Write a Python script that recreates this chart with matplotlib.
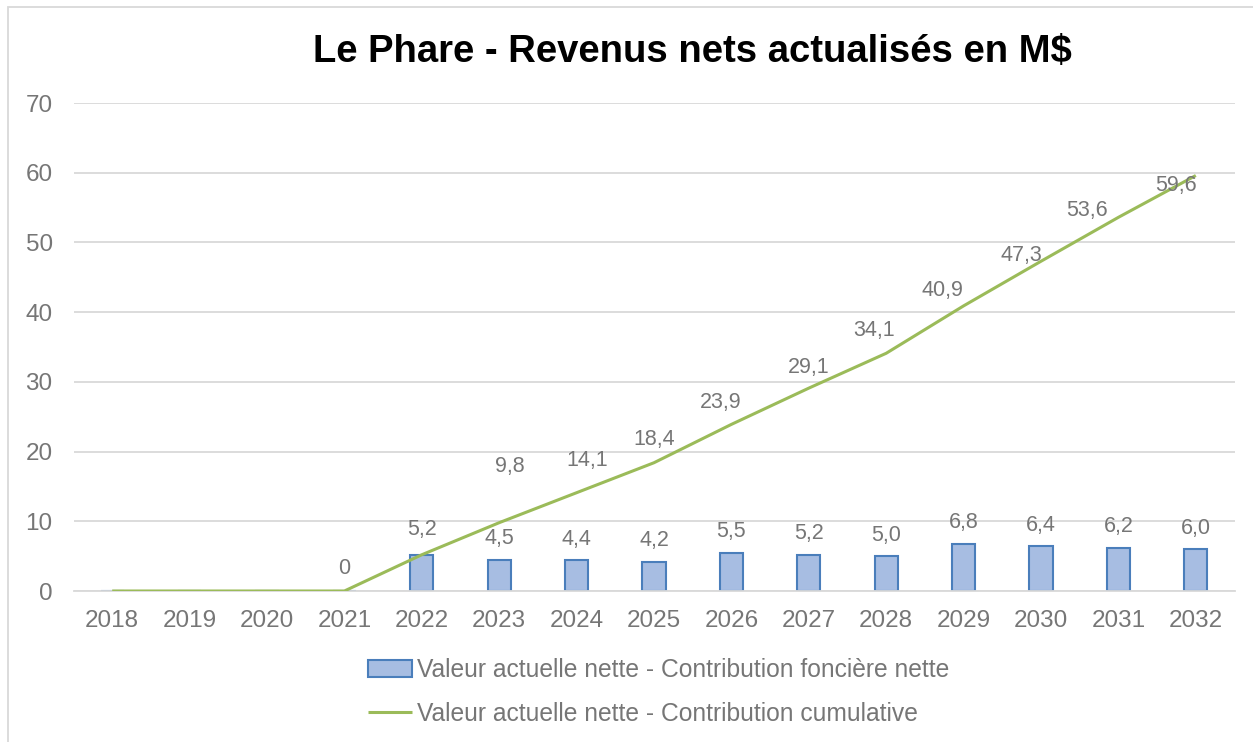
import matplotlib
matplotlib.use("Agg")
import matplotlib.pyplot as plt
from matplotlib.patches import Rectangle

years = ["2018", "2019", "2020", "2021", "2022", "2023", "2024", "2025",
         "2026", "2027", "2028", "2029", "2030", "2031", "2032"]
annual = [0, 0, 0, 0, 5.2, 4.5, 4.4, 4.2, 5.5, 5.2, 5.0, 6.8, 6.4, 6.2, 6.0]
cumulative = [0, 0, 0, 0, 5.2, 9.8, 14.1, 18.4, 23.9, 29.1, 34.1, 40.9, 47.3, 53.6, 59.6]
bar_label_from = 4    # bars labelled from 2022
# label offsets in pixels for the cumulative labels (label placement styling)
line_offsets = {3: (0, 23), 5: (11, 56), 6: (11, 32), 7: (0, 23), 8: (-11, 22),
                9: (0, 21), 10: (-12, 23), 11: (-21, 15), 12: (-20, 6),
                13: (-31, 7), 14: (-20, -10)}

title = "Le Phare - Revenus nets actualisés en M$"
bar_name = "Valeur actuelle nette - Contribution foncière nette"
line_name = "Valeur actuelle nette - Contribution cumulative"

plt.rcParams['font.family'] = ['Liberation Sans', 'DejaVu Sans']
gray = "#767676"
tick_fs = 17.5
label_fs = 15.5

fig = plt.figure(figsize=(12.53, 7.42), dpi=100)
ax = fig.add_axes([73.5 / 1253, 151 / 742, 1161 / 1253, 488 / 742])

x = list(range(len(years)))
bars = ax.bar(x, annual, width=0.3, color="#a7bde2", edgecolor="#4a7ebb",
              linewidth=1.5, zorder=2, label=bar_name)
ax.plot(x, cumulative, color="#9bbb59", linewidth=2.2, zorder=3, label=line_name,
        solid_capstyle='butt')

def fmt(v):
    return f"{v:.1f}".replace(".", ",")

for i in range(bar_label_from, len(years)):
    dy = 21 if i != 4 else 25
    ax.annotate(fmt(annual[i]), (x[i], annual[i]), xytext=(0, dy),
                textcoords="offset pixels", ha="center", va="center",
                fontsize=label_fs, color=gray, zorder=4)

for i, (dx, dy) in line_offsets.items():
    txt = "0" if cumulative[i] == 0 else fmt(cumulative[i])
    ax.annotate(txt, (x[i], cumulative[i]), xytext=(dx, dy),
                textcoords="offset pixels", ha="center", va="center",
                fontsize=label_fs, color=gray, zorder=4)

ax.set_xlim(-0.5, len(years) - 0.5)
ax.set_ylim(0, 70)
ax.set_yticks(range(0, 71, 10))
ax.set_xticks(x)
ax.set_xticklabels(years)
ax.tick_params(axis='both', length=0, labelsize=tick_fs, labelcolor=gray)
ax.tick_params(axis='y', pad=15)
ax.tick_params(axis='x', pad=14)
ax.grid(axis='y', color="#d9d9d9", linewidth=1.3, zorder=0)
ax.set_axisbelow(True)
for s in ["top", "right", "left"]:
    ax.spines[s].set_visible(False)
ax.spines["bottom"].set_color("#d9d9d9")
ax.spines["bottom"].set_linewidth(1.3)

fig.text(692 / 1253, 1 - 52 / 742, title, ha="center", va="center",
         fontsize=27.5, fontweight="bold", color="black")

leg = fig.legend(handles=[bars, ax.lines[0]], loc="center left",
                 bbox_to_anchor=(368 / 1253, 1 - 692 / 742), frameon=False,
                 fontsize=17.7, labelcolor=gray, handlelength=1.8,
                 handletextpad=0.2, labelspacing=0.8, borderaxespad=0,
                 borderpad=0)

fig.patches.append(Rectangle((8 / 1253, -0.01), 1.02, 1 - 7 / 742 + 0.01,
                             transform=fig.transFigure, fill=False,
                             edgecolor="#d9d9d9", linewidth=1.3))

fig.savefig("out.png", dpi=100)
